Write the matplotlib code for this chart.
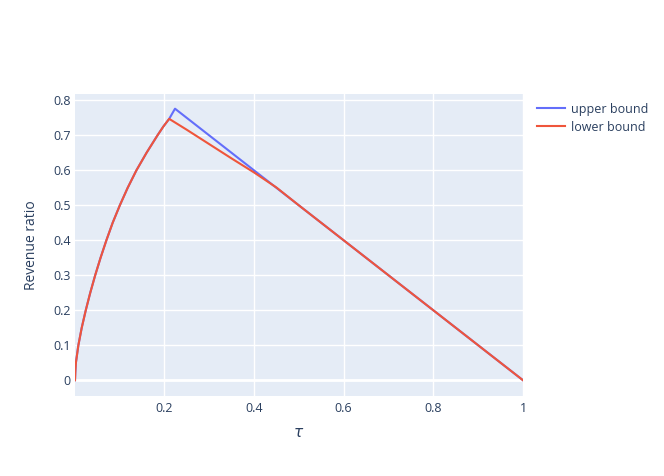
import matplotlib
matplotlib.use("Agg")
import matplotlib.pyplot as plt

# values
tau_rise = [0.001, 0.0018, 0.003, 0.0085, 0.016, 0.025, 0.035, 0.046, 0.058, 0.071, 0.085,
            0.101, 0.1185, 0.138, 0.1605, 0.185, 0.198, 0.211]
val_rise = [0.0, 0.025, 0.05, 0.1, 0.15, 0.2, 0.25, 0.3, 0.35, 0.4, 0.45,
            0.5, 0.55, 0.6, 0.65, 0.7, 0.725, 0.747]

upper_tau = tau_rise + [0.224, 0.4, 0.6, 0.8, 1.0]
upper_val = val_rise + [0.776, 0.6, 0.4, 0.2, 0.0]

lower_tau = tau_rise + [0.25, 0.3, 0.35, 0.4, 0.45, 0.5, 0.6, 0.8, 1.0]
lower_val = val_rise + [0.716, 0.675, 0.634, 0.594, 0.551, 0.5, 0.4, 0.2, 0.0]

xticks = [0.2, 0.4, 0.6, 0.8, 1.0]
xtick_labels = ["0.2", "0.4", "0.6", "0.8", "1"]
yticks = [0, 0.1, 0.2, 0.3, 0.4, 0.5, 0.6, 0.7, 0.8]
ytick_labels = ["0", "0.1", "0.2", "0.3", "0.4", "0.5", "0.6", "0.7", "0.8"]

text_col = "#2a3f5f"
plt.rcParams["font.family"] = ["Open Sans", "DejaVu Sans"]

fig = plt.figure(figsize=(6.64, 4.76), dpi=100)
ax = fig.add_axes([75 / 664, 1 - 396 / 476, 448 / 664, 302 / 476])
ax.set_facecolor("#E5ECF6")

ax.plot(upper_tau, upper_val, color="#636EFA", lw=1.5, label="upper bound", zorder=3)
ax.plot(lower_tau, lower_val, color="#EF553B", lw=1.5, label="lower bound", zorder=4)

ax.set_xlim(0.001, 1.0)
ax.set_ylim(-0.045, 0.818)
ax.set_xticks(xticks)
ax.set_xticklabels(xtick_labels)
ax.set_yticks(yticks)
ax.set_yticklabels(ytick_labels)
ax.grid(color="white", lw=1)
ax.axhline(0, color="white", lw=2, zorder=1.5)
ax.set_axisbelow(True)
for s in ax.spines.values():
    s.set_visible(False)
ax.tick_params(length=0, labelsize=9, colors=text_col, pad=4)
ax.tick_params(axis="y", pad=3)

ax.set_ylabel("Revenue ratio", fontsize=10, color=text_col, labelpad=10)
ax.set_xlabel(r"$\tau$", fontsize=11, color=text_col, labelpad=8)

leg = ax.legend(loc="upper left", bbox_to_anchor=(1.012, 1.0), frameon=False,
                fontsize=9, handlelength=2.2, handletextpad=0.5, labelspacing=0.4,
                borderaxespad=0.3)
for t in leg.get_texts():
    t.set_color(text_col)

fig.savefig("out.png", dpi=100)
